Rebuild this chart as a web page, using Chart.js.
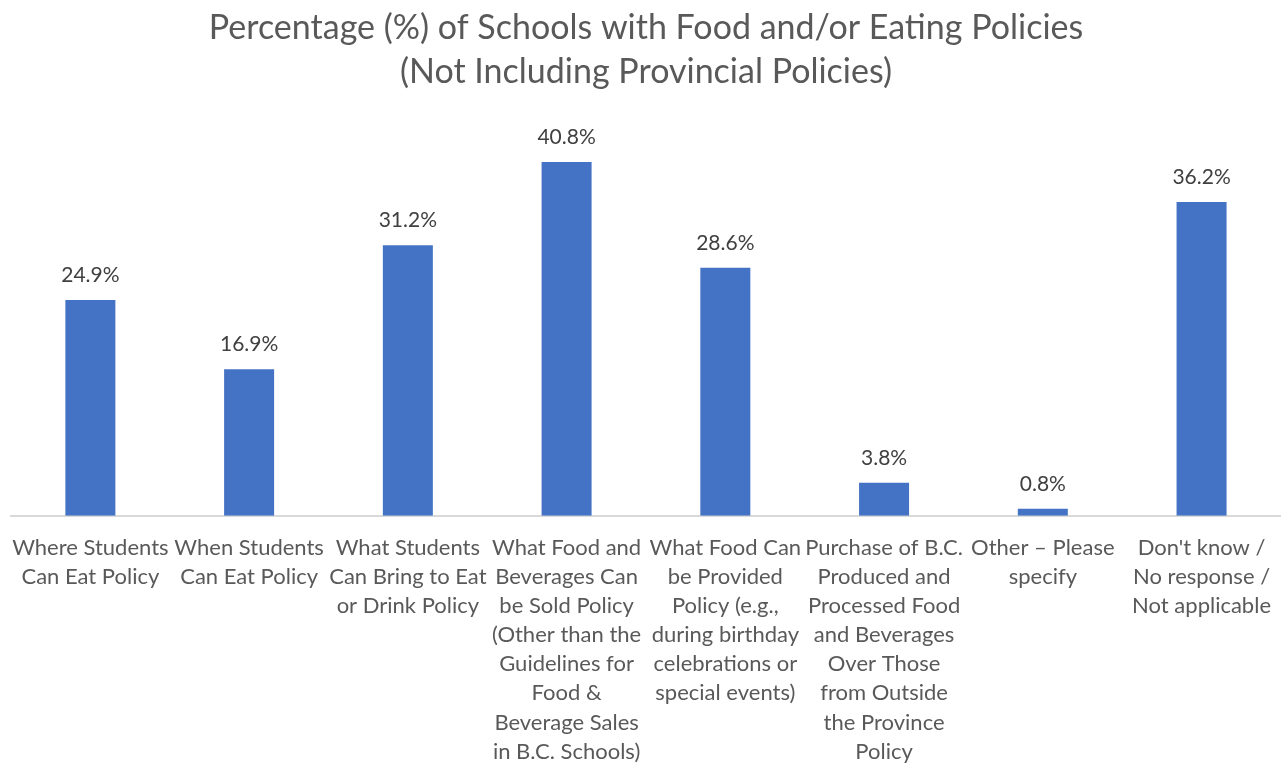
<!DOCTYPE html>
<html>
<head>
<meta charset="utf-8">
<script src="https://cdn.jsdelivr.net/npm/chart.js@4"></script>
<style>
  body { margin: 0; background: #fff; }
</style>
</head>
<body>
<canvas id="chart" width="1281" height="763"></canvas>
<script>
// Category labels, wrapped the same way as the source chart
const categories = [
  ["Where Students", "Can Eat Policy"],
  ["When Students", "Can Eat Policy"],
  ["What Students", "Can Bring to Eat", "or Drink Policy"],
  ["What Food and", "Beverages Can", "be Sold Policy", "(Other than the", "Guidelines for", "Food &", "Beverage Sales", "in B.C. Schools)"],
  ["What Food Can", "be Provided", "Policy (e.g.,", "during birthday", "celebrations or", "special events)"],
  ["Purchase of B.C.", "Produced and", "Processed Food", "and Beverages", "Over Those", "from Outside", "the Province", "Policy"],
  ["Other – Please", "specify"],
  ["Don't know /", "No response /", "Not applicable"]
];

// Percent of schools
const percentages = [24.9, 16.9, 31.2, 40.8, 28.6, 3.8, 0.8, 36.2];

const titleLines = [
  "Percentage (%) of Schools with Food and/or Eating Policies",
  "(Not Including Provincial Policies)"
];

const FONT = "Lato, 'Liberation Sans', sans-serif";

// Value labels above each bar
const barLabels = {
  id: "barLabels",
  afterDatasetsDraw(chart) {
    const ctx = chart.ctx;
    const meta = chart.getDatasetMeta(0);
    ctx.save();
    ctx.font = "21px " + FONT;
    ctx.fillStyle = "#404040";
    ctx.textAlign = "center";
    ctx.textBaseline = "middle";
    meta.data.forEach((bar, i) => {
      ctx.fillText(percentages[i].toFixed(1) + "%", bar.x, bar.y - 25);
    });
    ctx.restore();
  }
};

new Chart(document.getElementById("chart"), {
  type: "bar",
  data: {
    labels: categories,
    datasets: [{
      data: percentages,
      backgroundColor: "#4472c4",
      barPercentage: 0.315,
      categoryPercentage: 1
    }]
  },
  options: {
    responsive: false,
    animation: false,
    layout: { padding: { left: 11, right: 0, top: 0, bottom: -13 } },
    plugins: {
      legend: { display: false },
      tooltip: { enabled: false },
      title: {
        display: true,
        text: titleLines,
        color: "#595959",
        font: { family: FONT, size: 34, weight: "normal", lineHeight: 1.29 },
        padding: { top: 6, bottom: 32 }
      }
    },
    scales: {
      x: {
        grid: { display: false },
        border: { display: true, color: "#d9d9d9", width: 2 },
        ticks: {
          color: "#595959",
          autoSkip: false,
          maxRotation: 0,
          padding: 10,
          font: { family: FONT, size: 22, lineHeight: 1.32 }
        }
      },
      y: {
        display: false,
        min: 0,
        max: 45
      }
    }
  },
  plugins: [barLabels]
});
</script>
</body>
</html>
